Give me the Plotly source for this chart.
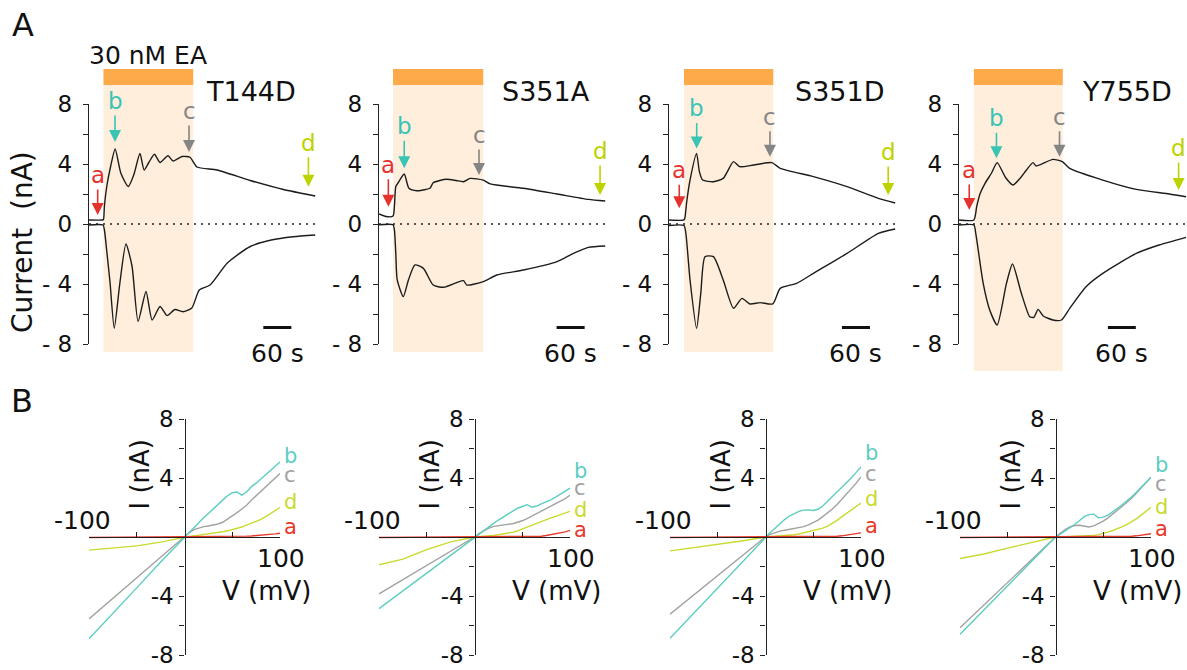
import plotly.graph_objects as go

W, H = 1187, 670
FONT = "DejaVu Sans"

# ---------------- Panel A data: time (s) vs current (nA) ----------------
MUTANTS = ["T144D", "S351A", "S351D", "Y755D"]
EA_START = [31, 30, 32, 32]
EA_END = [223, 223, 223, 223]

T144D_UP_T = [0, 29, 31, 33, 38, 46, 56, 68, 84, 96, 109, 118, 128, 140, 152, 169, 180, 199, 216, 231, 274, 345, 416, 484]
T144D_UP_I = [0.27, 0.27, 0.3, 1.2, 2.5, 3.8, 5.0, 3.4, 2.5, 3.3, 4.7, 3.6, 4.1, 4.65, 4.1, 4.55, 4.2, 4.5, 4.45, 3.8, 3.6, 2.9, 2.3, 1.87]
T144D_DN_T = [0, 30, 33, 38, 45, 54, 66, 79, 92, 105, 122, 135, 152, 167, 184, 201, 220, 236, 259, 296, 345, 390, 437, 484]
T144D_DN_I = [-0.07, -0.07, -0.4, -1.8, -3.9, -6.95, -3.95, -1.33, -2.8, -6.5, -4.5, -6.4, -5.5, -6.1, -5.7, -5.85, -5.6, -4.4, -4.07, -2.6, -1.5, -1.07, -0.85, -0.73]

S351A_UP_T = [0, 15, 30, 33, 36, 41, 54, 64, 81, 100, 109, 116, 130, 145, 165, 181, 195, 223, 238, 309, 381, 448, 484]
S351A_UP_I = [0.67, 0.5, 0.53, 1.2, 2.5, 2.75, 3.33, 2.38, 2.22, 2.3, 2.38, 2.75, 2.9, 2.98, 2.9, 2.82, 3.04, 2.93, 2.67, 2.38, 2.0, 1.64, 1.53]
S351A_DN_T = [0, 30, 33, 36, 39, 52, 63, 77, 95, 116, 138, 166, 181, 188, 223, 252, 309, 381, 416, 448, 484]
S351A_DN_I = [-0.05, -0.05, -0.4, -2.0, -3.73, -4.84, -3.73, -2.73, -2.96, -4.07, -4.22, -3.91, -3.78, -4.07, -3.84, -3.4, -3.07, -2.51, -1.96, -1.56, -1.47]

S351D_UP_T = [0, 32, 34, 38, 45, 59, 65, 72, 95, 116, 138, 151, 181, 220, 238, 309, 381, 448, 484]
S351D_UP_I = [0.27, 0.27, 0.4, 1.5, 2.93, 4.71, 3.5, 2.93, 2.82, 3.04, 4.16, 3.82, 3.93, 4.09, 3.71, 3.16, 2.49, 1.71, 1.4]
S351D_DN_T = [0, 32, 36, 45, 59, 68, 77, 95, 116, 138, 156, 173, 195, 222, 238, 273, 309, 381, 448, 484]
S351D_DN_I = [-0.1, -0.1, -0.6, -3.73, -6.96, -4.62, -2.18, -2.18, -3.73, -5.62, -4.96, -5.33, -5.24, -5.33, -4.29, -3.96, -3.29, -1.96, -0.62, -0.33]

Y755D_UP_T = [0, 32, 38, 45, 56, 70, 82, 100, 116, 130, 145, 159, 166, 202, 222, 238, 309, 381, 452, 488]
Y755D_UP_I = [0.27, 0.27, 1.16, 2.0, 2.71, 3.4, 4.09, 3.1, 2.6, 3.0, 3.6, 4.09, 3.87, 4.31, 4.16, 3.71, 2.93, 2.31, 2.0, 1.82]
Y755D_DN_T = [0, 32, 36, 52, 66, 82, 102, 115, 134, 152, 161, 170, 181, 202, 220, 238, 273, 309, 381, 430, 488]
Y755D_DN_I = [-0.07, -0.07, -0.62, -3.96, -5.73, -6.73, -3.96, -2.67, -4.62, -6.18, -6.22, -5.69, -6.13, -6.4, -6.4, -5.62, -4.18, -3.29, -1.96, -1.4, -0.89]

UP_T = [T144D_UP_T, S351A_UP_T, S351D_UP_T, Y755D_UP_T]
UP_I = [T144D_UP_I, S351A_UP_I, S351D_UP_I, Y755D_UP_I]
DN_T = [T144D_DN_T, S351A_DN_T, S351D_DN_T, Y755D_DN_T]
DN_I = [T144D_DN_I, S351A_DN_I, S351D_DN_I, Y755D_DN_I]

# arrow tips (time s, current nA) for a, b, c, d
ARROW_LABELS = ["a", "b", "c", "d"]
T144D_ARROW_T = [18.6, 55.7, 214, 469.5]
T144D_ARROW_I = [0.6, 5.47, 4.8, 2.49]
S351A_ARROW_T = [20, 54, 214, 473]
S351A_ARROW_I = [1.15, 3.71, 3.27, 1.93]
S351D_ARROW_T = [22, 59.3, 216, 469]
S351D_ARROW_I = [1.05, 5.04, 4.49, 1.93]
Y755D_ARROW_T = [22, 80.5, 216, 472]
Y755D_ARROW_I = [0.93, 4.38, 4.49, 2.27]
ARROW_T = [T144D_ARROW_T, S351A_ARROW_T, S351D_ARROW_T, Y755D_ARROW_T]
ARROW_I = [T144D_ARROW_I, S351A_ARROW_I, S351D_ARROW_I, Y755D_ARROW_I]

SCALE_T0 = [373, 380, 370, 320]   # start of 60 s scale bar
SCALE_LEN = 60

# ---------------- Panel B data: V (mV) vs I (nA) ----------------
V_MV = [-100, -75, -50, -25, 0, 5, 10, 15, 20, 25, 30, 35, 40, 45, 50, 55, 60, 65, 70, 75, 80, 85, 90, 95, 100]

T144D_IV_A = [-0.03, -0.02, -0.02, -0.01, 0, 0, 0, 0, 0, 0.01, 0.01, 0.01, 0.02, 0.02, 0.03, 0.04, 0.05, 0.06, 0.07, 0.09, 0.11, 0.14, 0.17, 0.21, 0.25]
T144D_IV_B = [-6.9, -5.2, -3.45, -1.7, 0, 0.33, 0.66, 0.99, 1.3, 1.6, 1.92, 2.22, 2.5, 2.8, 3.0, 3.05, 2.84, 3.05, 3.4, 3.65, 3.95, 4.25, 4.5, 4.8, 5.08]
T144D_IV_C = [-5.55, -4.15, -2.8, -1.4, 0, 0.3, 0.5, 0.62, 0.7, 0.75, 0.8, 0.88, 1.0, 1.2, 1.45, 1.65, 1.9, 2.15, 2.5, 2.8, 3.05, 3.35, 3.7, 4.0, 4.3]
T144D_IV_D = [-0.89, -0.75, -0.6, -0.35, 0, 0.04, 0.08, 0.12, 0.16, 0.2, 0.25, 0.3, 0.36, 0.42, 0.5, 0.58, 0.68, 0.8, 0.92, 1.05, 1.2, 1.38, 1.58, 1.8, 2.0]

S351A_IV_A = [-0.03, -0.02, -0.02, -0.01, 0, 0, 0, 0, 0, 0.01, 0.01, 0.01, 0.02, 0.02, 0.02, 0.03, 0.03, 0.04, 0.05, 0.1, 0.15, 0.22, 0.28, 0.35, 0.45]
S351A_IV_B = [-4.86, -3.65, -2.43, -1.2, 0, 0.23, 0.46, 0.69, 0.92, 1.15, 1.36, 1.57, 1.77, 1.95, 2.07, 2.19, 2.02, 2.1, 2.25, 2.38, 2.52, 2.7, 2.9, 3.1, 3.31]
S351A_IV_C = [-3.85, -2.9, -1.93, -0.95, 0, 0.25, 0.45, 0.6, 0.72, 0.78, 0.82, 0.86, 0.9, 0.98, 1.1, 1.25, 1.42, 1.58, 1.74, 1.9, 2.06, 2.22, 2.4, 2.6, 2.83]
S351A_IV_D = [-1.88, -1.5, -0.85, -0.33, 0, 0.02, 0.05, 0.08, 0.11, 0.15, 0.19, 0.25, 0.32, 0.42, 0.55, 0.67, 0.8, 0.93, 1.07, 1.18, 1.3, 1.4, 1.5, 1.62, 1.74]

S351D_IV_A = [-0.03, -0.02, -0.02, -0.01, 0, 0, 0, 0, 0, 0, 0.01, 0.01, 0.01, 0.01, 0.02, 0.02, 0.02, 0.03, 0.03, 0.05, 0.08, 0.12, 0.16, 0.22, 0.28]
S351D_IV_B = [-6.87, -5.15, -3.43, -1.72, 0, 0.3, 0.6, 0.9, 1.18, 1.42, 1.6, 1.74, 1.82, 1.84, 1.8, 1.88, 2.1, 2.42, 2.72, 3.0, 3.35, 3.7, 4.02, 4.38, 4.75]
S351D_IV_C = [-5.23, -3.92, -2.6, -1.3, 0, 0.18, 0.3, 0.4, 0.46, 0.52, 0.57, 0.62, 0.7, 0.82, 0.96, 1.15, 1.38, 1.62, 1.9, 2.2, 2.55, 2.9, 3.25, 3.65, 4.07]
S351D_IV_D = [-0.94, -0.72, -0.48, -0.27, 0, 0.02, 0.04, 0.06, 0.08, 0.11, 0.15, 0.2, 0.27, 0.34, 0.42, 0.5, 0.6, 0.74, 0.92, 1.13, 1.38, 1.62, 1.87, 2.1, 2.3]

Y755D_IV_A = [-0.03, -0.02, -0.02, -0.01, 0, 0, 0, 0, 0, 0, 0, 0.01, 0.01, 0.01, 0.01, 0.02, 0.02, 0.02, 0.03, 0.03, 0.05, 0.08, 0.12, 0.17, 0.22]
Y755D_IV_B = [-6.6, -4.95, -3.3, -1.65, 0, 0.2, 0.4, 0.6, 0.85, 1.1, 1.38, 1.52, 1.55, 1.3, 1.35, 1.48, 1.7, 1.95, 2.2, 2.46, 2.75, 3.05, 3.4, 3.75, 4.05]
Y755D_IV_C = [-6.15, -4.6, -3.08, -1.54, 0, 0.25, 0.5, 0.68, 0.78, 0.8, 0.76, 0.68, 0.75, 0.9, 1.08, 1.3, 1.55, 1.8, 2.08, 2.35, 2.65, 3.0, 3.35, 3.7, 4.05]
Y755D_IV_D = [-1.46, -1.15, -0.75, -0.37, 0, 0.01, 0.02, 0.03, 0.04, 0.05, 0.07, 0.09, 0.11, 0.16, 0.23, 0.33, 0.44, 0.56, 0.7, 0.86, 1.03, 1.25, 1.5, 1.75, 2.01]

IV = [
    {"a": T144D_IV_A, "b": T144D_IV_B, "c": T144D_IV_C, "d": T144D_IV_D},
    {"a": S351A_IV_A, "b": S351A_IV_B, "c": S351A_IV_C, "d": S351A_IV_D},
    {"a": S351D_IV_A, "b": S351D_IV_B, "c": S351D_IV_C, "d": S351D_IV_D},
    {"a": Y755D_IV_A, "b": Y755D_IV_B, "c": Y755D_IV_C, "d": Y755D_IV_D},
]
# label heights (nA) of a/b/c/d letters at the right end of IV plots
IV_LABEL_Y = [
    {"b": 5.5, "c": 4.2, "d": 2.4, "a": 0.7},
    {"b": 4.5, "c": 3.3, "d": 1.8, "a": 0.5},
    {"b": 5.7, "c": 4.3, "d": 2.6, "a": 0.75},
    {"b": 4.9, "c": 3.6, "d": 2.03, "a": 0.55},
]

# ---------------- styles ----------------
ARROW_COL = {"a": "#e5322d", "b": "#39c4b3", "c": "#858585", "d": "#bdd300"}
IV_COL = {"a": "#e8392b", "b": "#5ccdc1", "c": "#a2a2a2", "d": "#c9da2e"}
TRACE_COL = "#1c1c1c"
AX_COL = "#222222"
SHADE = "#feeedb"
BAR = "#fdaa4a"


def px(x):
    return x / W


def py(y):
    return 1 - y / H


A_X0 = [89, 379, 669, 959]
A_WPX = 229
A_TOP, A_BOT = 104, 344
SHADE_BOTTOM = [352, 352, 352, 371]
LABEL_X = [204, 500, 793, 1080]
ARROW_AY = [[-40, -41, -41, -44], [-42, -42, -40, -44], [-38, -40, -40, -43], [-40, -40, -40, -42]]

B_X0 = [89, 379, 670, 960]
B_WPX = 191
B_TOP, B_BOT = 419, 655

fig = go.Figure()
layout = dict(
    width=W, height=H, margin=dict(l=0, r=0, t=0, b=0, autoexpand=False),
    paper_bgcolor="white", plot_bgcolor="rgba(0,0,0,0)",
    showlegend=False, font=dict(family=FONT, color="#111111"),
)
shapes, annotations = [], []


def txt(x, y, text, size, **kw):
    d = dict(x=px(x), y=py(y), xref="paper", yref="paper", text=text, showarrow=False,
             xanchor="center", yanchor="middle", font=dict(size=size, family=FONT, color="#111"))
    d.update(kw)
    return d


for i in range(4):
    n = i + 1
    xa, ya = f"x{n}", f"y{n}"
    layout[f"xaxis{n}"] = dict(domain=[px(A_X0[i]), min(1.0, px(A_X0[i] + A_WPX))], range=[0, 490],
                               visible=False, anchor=ya, fixedrange=True, automargin=False)
    layout[f"yaxis{n}"] = dict(domain=[py(A_BOT), py(A_TOP)], range=[-8, 8], anchor=xa,
                               showline=True, linecolor=AX_COL, linewidth=1.4, ticks="outside",
                               ticklen=5, tickwidth=1.4, tickcolor=AX_COL, showgrid=False, zeroline=False,
                               tickvals=[-8, -6, -4, -2, 0, 2, 4, 6, 8],
                               ticktext=["- 8", "", "- 4", "", "0", "", "4", "", "8"],
                               tickfont=dict(size=23, family=FONT, color="#111"),
                               ticklabelstandoff=6, ticklabeloverflow="allow",
                               fixedrange=True, automargin=False)
    # EA shading and bar
    shapes.append(dict(type="rect", xref=xa, yref="paper", x0=EA_START[i], x1=EA_END[i],
                       y0=py(SHADE_BOTTOM[i]), y1=py(69), fillcolor=SHADE, line=dict(width=0), layer="below"))
    shapes.append(dict(type="rect", xref=xa, yref="paper", x0=EA_START[i], x1=EA_END[i],
                       y0=py(85), y1=py(69), fillcolor=BAR, line=dict(width=0), layer="below"))
    # zero dotted line
    t_end = max(UP_T[i][-1], DN_T[i][-1])
    fig.add_trace(go.Scatter(x=[0, t_end], y=[0, 0], xaxis=xa, yaxis=ya, mode="lines",
                             line=dict(color="#222", width=1.6, dash="2px,5px"), hoverinfo="skip"))
    for tt, ii in ((UP_T[i], UP_I[i]), (DN_T[i], DN_I[i])):
        fig.add_trace(go.Scatter(x=tt, y=ii, xaxis=xa, yaxis=ya, mode="lines",
                                 line=dict(color=TRACE_COL, width=1.4, shape="spline", smoothing=0.6),
                                 hoverinfo="skip"))
    # arrows
    for k, lab in enumerate(ARROW_LABELS):
        c = ARROW_COL[lab]
        annotations.append(dict(x=ARROW_T[i][k], y=ARROW_I[i][k], xref=xa, yref=ya, text=lab,
                                showarrow=True, arrowhead=2, arrowsize=1.5, arrowwidth=1.6, arrowcolor=c,
                                ax=0, ay=ARROW_AY[i][k], xanchor="center", yanchor="middle",
                                font=dict(size=23, color=c, family=FONT)))
    # scale bar
    shapes.append(dict(type="line", xref=xa, yref=ya, x0=SCALE_T0[i], x1=SCALE_T0[i] + SCALE_LEN,
                       y0=-6.9, y1=-6.9, line=dict(color="#111", width=3)))
    annotations.append(dict(x=SCALE_T0[i] + SCALE_LEN / 2, y=-6.9, xref=xa, yref=ya, text="60 s",
                            showarrow=False, yshift=-26, xanchor="center", yanchor="middle",
                            font=dict(size=25, family=FONT, color="#111")))
    # mutant label
    annotations.append(txt(LABEL_X[i], 91, MUTANTS[i], 27, xanchor="left"))

# ---------------- Panel B ----------------
for i in range(4):
    n = i + 5
    xa, ya = f"x{n}", f"y{n}"
    xd = [px(B_X0[i]), px(B_X0[i] + B_WPX)]
    yd = [py(B_BOT), py(B_TOP)]
    layout[f"xaxis{n}"] = dict(domain=xd, range=[-100, 100], anchor="free", position=(yd[0] + yd[1]) / 2,
                               showline=True, linecolor=AX_COL, linewidth=1.4, ticks="inside", ticklen=5,
                               tickwidth=1.4, tickcolor=AX_COL, tickvals=[-50, 50], showticklabels=False,
                               showgrid=False, zeroline=False, fixedrange=True, automargin=False)
    layout[f"yaxis{n}"] = dict(domain=yd, range=[-8, 8], anchor="free", position=(xd[0] + xd[1]) / 2,
                               showline=True, linecolor=AX_COL, linewidth=1.4, ticks="outside", ticklen=5,
                               tickwidth=1.4, tickcolor=AX_COL, showgrid=False, zeroline=False,
                               tickvals=[-8, -6, -4, -2, 0, 2, 4, 6, 8],
                               ticktext=["-8", "", "-4", "", "", "", "4", "", "8"],
                               tickfont=dict(size=23, family=FONT, color="#111"),
                               ticklabelstandoff=1, ticklabeloverflow="allow",
                               fixedrange=True, automargin=False)
    for lab in ["d", "c", "b", "a"]:
        fig.add_trace(go.Scatter(x=V_MV, y=IV[i][lab], xaxis=xa, yaxis=ya, mode="lines",
                                 line=dict(color=IV_COL[lab], width=1.4), hoverinfo="skip"))
    for lab in ["b", "c", "d", "a"]:
        annotations.append(dict(x=100, y=IV_LABEL_Y[i][lab], xref=xa, yref=ya, text=lab, showarrow=False,
                                xanchor="left", yanchor="middle", xshift=3, borderpad=0,
                                font=dict(size=21, color=IV_COL[lab], family=FONT)))
    annotations.append(dict(x=-100, y=0, xref=xa, yref=ya, text="-100", showarrow=False,
                            xanchor="center", yanchor="middle", xshift=-7, yshift=17,
                            font=dict(size=25, family=FONT, color="#111")))
    annotations.append(dict(x=100, y=0, xref=xa, yref=ya, text="100", showarrow=False,
                            xanchor="center", yanchor="middle", xshift=1, yshift=-21,
                            font=dict(size=25, family=FONT, color="#111")))
    annotations.append(dict(x=100, y=0, xref=xa, yref=ya, text="V (mV)", showarrow=False,
                            xanchor="center", yanchor="middle", xshift=-14, yshift=-54,
                            font=dict(size=26, family=FONT, color="#111")))
    annotations.append(dict(x=0, y=4.2, xref=xa, yref=ya, text="I (nA)", showarrow=False, textangle=-90,
                            xanchor="center", yanchor="middle", xshift=-44,
                            font=dict(size=26, family=FONT, color="#111")))

# global texts
annotations += [
    txt(23, 25, "A", 32),
    txt(22, 401, "B", 32),
    txt(148, 55, "30 nM EA", 25),
    txt(22, 242, "Current  (nA)", 28, textangle=-90),
]

layout["shapes"] = shapes
layout["annotations"] = annotations
fig.update_layout(**layout)
fig.write_html("out.html")
